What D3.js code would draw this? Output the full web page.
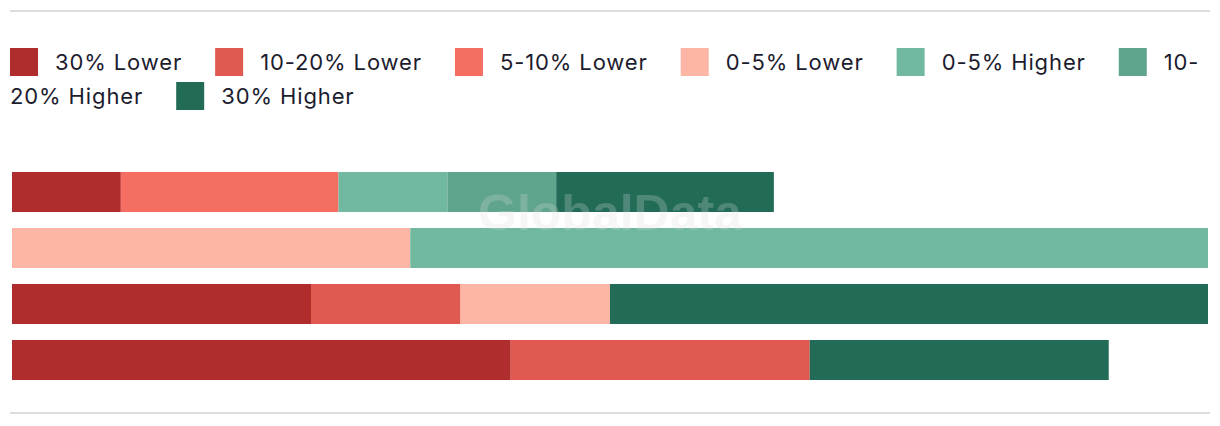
<!DOCTYPE html>
<html>
<head>
<meta charset="utf-8">
<script src="https://cdn.jsdelivr.net/npm/d3@7"></script>
<style>
  html, body { margin: 0; padding: 0; background: #ffffff; }
  svg { display: block; }
</style>
</head>
<body>
<div id="chart"></div>
<script>
// ---- Data ----
const categories = ["Group 1", "Group 2", "Group 3", "Group 4"];
const seriesNames = ["30% Lower", "10-20% Lower", "5-10% Lower", "0-5% Lower", "0-5% Higher", "10-20% Higher", "30% Higher"];
const seriesColors = ["#b02d2e", "#e05a4f", "#f56e62", "#fdb5a6", "#70b8a0", "#5fa48d", "#216b57"];
// share of each group (%) per series, in category order
const lower30   = [9.1, 0, 25, 41.7];
const lower1020 = [0, 0, 12.5, 25];
const lower510  = [18.2, 0, 0, 0];
const lower05   = [0, 33.3, 12.5, 0];
const higher05  = [9.1, 66.7, 0, 0];
const higher1020 = [9.1, 0, 0, 0];
const higher30  = [18.2, 0, 50, 25];
const seriesValues = [lower30, lower1020, lower510, lower05, higher05, higher1020, higher30];
const xDomainMax = 100;
const watermark = "GlobalData";

// ---- Layout ----
const W = 1220, H = 426;
const FONT = "Inter, 'Liberation Sans', sans-serif";
const svg = d3.select("#chart").append("svg").attr("width", W).attr("height", H);

// rules
[11, 413].forEach(y => {
  svg.append("line").attr("x1", 10).attr("x2", 1210).attr("y1", y).attr("y2", y)
    .attr("stroke", "#dcdcdc").attr("stroke-width", 2);
});

// ---- Legend (flow layout with wrapping at hyphens) ----
const legend = svg.append("g").attr("class", "legend")
  .attr("font-family", FONT).attr("font-size", 22).attr("letter-spacing", "0.88px")
  .attr("fill", "#1c1c2e");
const measure = t => {
  const n = legend.append("text").text(t);
  const w = n.node().getComputedTextLength();
  n.remove();
  return w;
};
const sw = 28, gapIn = 17, gapOut = 33, lineH = 34, legLeft = 10, legRight = 1210, base0 = 70;
let lx = legLeft, line = 0;
seriesNames.forEach((name, i) => {
  const tw = measure(name);
  let first = name, rest = null;
  if (lx + sw + gapIn + tw > legRight) {
    // try to break after a hyphen or at a space
    const breaks = [];
    for (let k = 0; k < name.length; k++) {
      if (name[k] === "-") breaks.push([name.slice(0, k + 1), name.slice(k + 1)]);
      if (name[k] === " ") breaks.push([name.slice(0, k), name.slice(k + 1)]);
    }
    let found = null;
    breaks.forEach(b => { if (lx + sw + gapIn + measure(b[0]) <= legRight) found = b; });
    if (found) { first = found[0]; rest = found[1]; }
    else { line++; lx = legLeft; }
  }
  const base = base0 + line * lineH;
  legend.append("rect").attr("x", lx).attr("y", base - 22).attr("width", sw).attr("height", sw)
    .attr("fill", seriesColors[i]);
  legend.append("text").attr("x", lx + sw + gapIn).attr("y", base).text(first);
  lx += sw + gapIn + measure(first) + gapOut;
  if (rest !== null) {
    line++; lx = legLeft;
    legend.append("text").attr("x", lx).attr("y", base0 + line * lineH).text(rest);
    lx += measure(rest) + gapOut;
  }
});

// ---- Bars ----
const x = d3.scaleLinear().domain([0, xDomainMax]).range([12, 1208]);
const y = d3.scaleBand().domain(categories).range([172, 380]).paddingInner(16 / 56).paddingOuter(0);

const rows = categories.map((c, ci) => {
  const r = { cat: c };
  seriesNames.forEach((s, si) => r[s] = seriesValues[si][ci]);
  return r;
});
const stacked = d3.stack().keys(seriesNames)(rows);

svg.append("g").selectAll("g").data(stacked).join("g")
  .attr("fill", (d, i) => seriesColors[i])
  .selectAll("rect").data(d => d.filter(p => p[1] - p[0] > 0)).join("rect")
  .attr("x", d => x(d[0]))
  .attr("width", d => x(d[1]) - x(d[0]))
  .attr("y", d => y(d.data.cat))
  .attr("height", y.bandwidth());

// ---- Watermark ----
svg.append("text").attr("x", 610).attr("y", 230).attr("text-anchor", "middle")
  .attr("font-family", "'Liberation Sans', Arial, sans-serif").attr("font-weight", "bold")
  .attr("font-size", 50).attr("fill", "#dddddd").attr("fill-opacity", 0.25)
  .text(watermark);
</script>
</body>
</html>
